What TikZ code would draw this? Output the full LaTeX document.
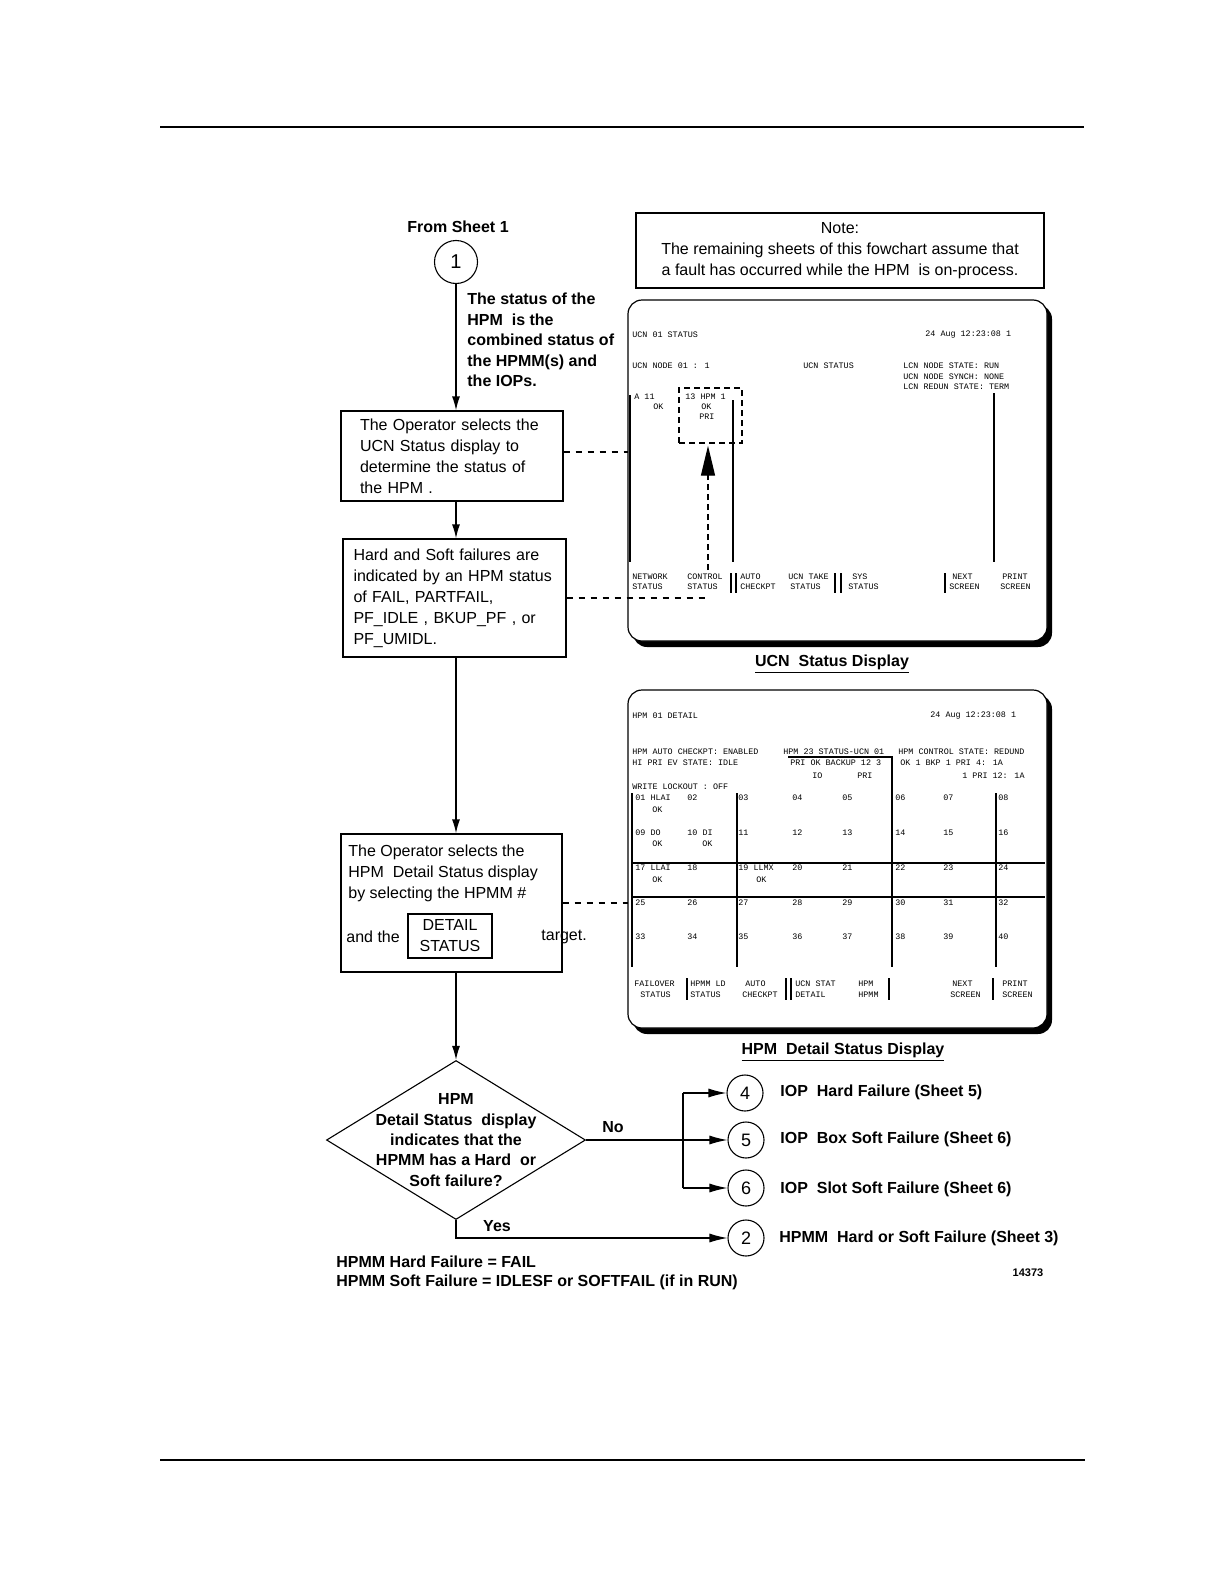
\documentclass[tikz,border=0pt]{standalone}
\usepackage{fontspec}
\setmainfont{Liberation Sans}
\newfontfamily\scrfont{Liberation Mono}
\usetikzlibrary{arrows.meta,shapes.geometric}
\begin{document}
\begin{tikzpicture}[x=0.5pt,y=-0.5pt,
  box/.style={draw, line width=0.65pt, inner sep=0pt},
  btxt/.style={font=\fontsize{8}{10.5}\selectfont},
  boldt/.style={font=\bfseries\fontsize{8}{10.2}\selectfont, inner sep=0pt},
  arr/.style={-{Latex[length=7pt,width=4pt]}, line width=0.65pt},
  harr/.style={-{Latex[length=9pt,width=4.5pt]}, line width=0.6pt},
  link/.style={dash pattern=on 3pt off 3pt, line width=0.55pt},
  conn/.style={circle, draw, line width=0.55pt, inner sep=0pt, font=\fontsize{9}{9}\selectfont},
  scr/.style={font=\scrfont\fontsize{4.2}{5}\selectfont, inner sep=0pt, anchor=west},
  sline/.style={line width=0.9pt},
  frame/.style={fill=white, line width=0.6pt, rounded corners=7pt},
  shade/.style={fill=black, rounded corners=7pt}
]
\useasboundingbox (0,0) rectangle (1224,1584);

% page rules
\draw[line width=0.7pt] (160,127) -- (1084,127);
\draw[line width=0.7pt] (160,1460) -- (1085,1460);

% note
\node[box, minimum width=204pt, minimum height=37.5pt, align=center, btxt] (note) at (840,250.5)
  {Note:\\The remaining sheets of this fowchart assume that\\a fault has occurred while the HPM\ \ is on-process.};

% ---------- screen 1 : UCN Status Display ----------
\fill[shade] (633,305) rectangle (1052,647);
\draw[frame] (628,300) rectangle (1047,641);
\coordinate (s1w) at (628,452);
\foreach \px/\py/\t [count=\i] in {
  632/335/{UCN 01 STATUS}, 925/335/{24 Aug   12:23:08   1},
  632/366/{UCN  NODE  01 : 1}, 803/366/{UCN STATUS},
  903/366/{LCN NODE  STATE: RUN}, 903/377/{UCN NODE SYNCH: NONE}, 903/387/{LCN REDUN STATE: TERM},
  634/397/{A   11}, 653/407/{OK},
  685/397/{13 HPM  1}, 701/407/{OK}, 699/417/{PRI},
  632/577/{NETWORK}, 632/587/{ STATUS}, 687/577/{CONTROL}, 687/587/{STATUS},
  740/577/{AUTO}, 740/587/{CHECKPT}, 788/577/{UCN TAKE}, 790/587/{STATUS},
  852/577/{SYS}, 848/587/{STATUS},
  952/577/{NEXT}, 949/587/{SCREEN}, 1002/577/{PRINT}, 1000/587/{SCREEN}}
  \node[scr] (sa\i) at (\px,\py) {\t};
\draw[sline] (630,395) -- (630,562);
\draw[sline] (733,400) -- (733,562);
\draw[sline] (994,393) -- (994,562);
\draw[sline] (731,573) -- (731,593) (736,573) -- (736,593);
\draw[sline] (835,573) -- (835,593) (841,573) -- (841,593);
\draw[sline] (945,573) -- (945,593);
\node[draw, densely dashed, line width=0.7pt, minimum width=31.5pt, minimum height=27.5pt, inner sep=0pt] (sel) at (710.5,415.5) {};
\coordinate (selfoot) at (708,570);
\draw[densely dashed, line width=0.7pt, -{Triangle[length=15pt,width=7pt]}] (selfoot) -- ([yshift=-1pt]selfoot |- sel.south);

\node[boldt] (cap1) at (832,664) {\underline{UCN\ \ Status Display}};

% ---------- screen 2 : HPM Detail Status Display ----------
\fill[shade] (633,695) rectangle (1052,1034);
\draw[frame] (628,690) rectangle (1047,1028);
\coordinate (s2w) at (628,903);
\foreach \px/\py/\t [count=\i] in {
  632/716/{HPM 01 DETAIL}, 930/716/{24 Aug   12:23:08  1},
  632/752/{HPM AUTO CHECKPT: ENABLED}, 783/752/{HPM 23 STATUS-UCN 01}, 898/752/{HPM CONTROL STATE: REDUND},
  632/763/{HI  PRI EV  STATE: IDLE}, 790/763/{PRI  OK  BACKUP 12 3}, 900/763/{OK  1  BKP 1 PRI 4: 1A},
  812/776/{IO}, 857/776/{PRI}, 962/776/{1 PRI 12: 1A},
  632/787/{WRITE LOCKOUT : OFF},
  635/798/{01 HLAI}, 687/798/{02}, 738/798/{03}, 792/798/{04}, 842/798/{05}, 895/798/{06}, 943/798/{07}, 998/798/{08},
  652/810/{OK},
  635/833/{09  DO}, 687/833/{10 DI}, 738/833/{11}, 792/833/{12}, 842/833/{13}, 895/833/{14}, 943/833/{15}, 998/833/{16},
  652/844/{OK}, 702/844/{OK},
  635/868/{17 LLAI}, 687/868/{18}, 738/868/{19 LLMX}, 792/868/{20}, 842/868/{21}, 895/868/{22}, 943/868/{23}, 998/868/{24},
  652/880/{OK}, 756/880/{OK},
  635/903/{25}, 687/903/{26}, 738/903/{27}, 792/903/{28}, 842/903/{29}, 895/903/{30}, 943/903/{31}, 998/903/{32},
  635/937/{33}, 687/937/{34}, 738/937/{35}, 792/937/{36}, 842/937/{37}, 895/937/{38}, 943/937/{39}, 998/937/{40},
  634/984/{FAILOVER}, 640/995/{STATUS}, 690/984/{HPMM LD}, 690/995/{STATUS}, 745/984/{AUTO}, 742/995/{CHECKPT},
  795/984/{UCN STAT}, 795/995/{DETAIL}, 858/984/{HPM}, 858/995/{HPMM}, 952/984/{NEXT}, 950/995/{SCREEN}, 1002/984/{PRINT}, 1002/995/{SCREEN}}
  \node[scr] (sb\i) at (\px,\py) {\t};
\draw[sline] (788,757) -- (892,757) -- (892,967);
\draw[sline] (632,793) -- (632,967);
\draw[sline] (737,793) -- (737,967);
\draw[sline] (996,793) -- (996,967);
\draw[sline] (632,863) -- (1045,863);
\draw[sline] (632,897) -- (1045,897);
\draw[sline] (687,978) -- (687,1000) (786,978) -- (786,1000) (791,978) -- (791,1000)
             (889,978) -- (889,1000) (993,978) -- (993,1000);

\node[boldt] (cap2) at (843,1052) {\underline{HPM\ \ Detail Status Display}};

% ---------- flow ----------
\node[boldt] (from) at (458,227) {From Sheet 1};
\node[conn, minimum size=21.5pt, font=\fontsize{10}{10}\selectfont] (c1) at (456,262) {1};
\node[boldt, anchor=west, align=left] (note2) at (467,340)
  {The status of the\\HPM\ \ is the\\combined status of\\the HPMM(s) and\\the IOPs.};

\node[box, btxt, minimum width=111pt, minimum height=45pt, text width=92pt, align=left] (b1) at (452,456)
  {The Operator selects the\\UCN Status display to\\determine the status of\\the HPM .};
\node[box, btxt, minimum width=111.5pt, minimum height=59pt, text width=101pt, align=left] (b2) at (454.5,598)
  {Hard and Soft failures are\\indicated by an HPM status\\of FAIL, PARTFAIL,\\PF\_IDLE , BKUP\_PF , or\\PF\_UMIDL.};
\node[box, minimum width=110.5pt, minimum height=69pt] (b3) at (451.5,903) {};
\node[btxt, anchor=west, align=left, inner sep=0pt] (b3t) at (348,873)
  {The Operator selects the\\HPM\ \ Detail Status display\\by selecting the HPMM \#};
\node[btxt, anchor=west, inner sep=0pt] (b3a) at (346,937) {and the};
\node[box, btxt, minimum width=42pt, minimum height=22pt, align=center] (ds) at (450,936) {DETAIL\\STATUS};
\node[btxt, anchor=west, inner sep=0pt] (b3b) at (541,937) {target.};

\node[draw, diamond, minimum width=129.5pt, minimum height=79.5pt, inner sep=0pt, line width=0.55pt] (d) at (456,1140) {};
\node[boldt, align=center] (dt) at (456,1140)
  {HPM\\Detail Status\ \ display\\indicates that the\\HPMM has a Hard\ \ or\\Soft failure?};

\node[conn, minimum size=18pt] (c4) at (745,1093) {4};
\node[conn, minimum size=18pt] (c5) at (746,1140) {5};
\node[conn, minimum size=18pt] (c6) at (746,1188) {6};
\node[conn, minimum size=18pt] (c2) at (746,1238) {2};
\coordinate (j) at (683,1140);

\node[boldt, anchor=west] (l4) at (780,1092) {IOP\ \ Hard Failure (Sheet 5)};
\node[boldt, anchor=west] (l5) at (780,1139) {IOP\ \ Box Soft Failure (Sheet 6)};
\node[boldt, anchor=west] (l6) at (780,1189) {IOP\ \ Slot Soft Failure (Sheet 6)};
\node[boldt, anchor=west] (l2) at (779,1238) {HPMM\ \ Hard or Soft Failure (Sheet 3)};

\node[boldt] (no) at (613,1127) {No};
\node[boldt] (yes) at (497,1226) {Yes};

\node[boldt, anchor=west] (f1) at (336,1262) {HPMM Hard Failure = FAIL};
\node[boldt, anchor=west] (f2) at (336,1282) {HPMM Soft Failure = IDLESF or SOFTFAIL (if in RUN)};
\node[font=\bfseries\fontsize{5.5}{6}\selectfont, inner sep=0pt] (num) at (1028,1273) {14373};

% connectors
\draw[arr] (c1.south) -- (c1.south |- b1.north);
\draw[arr] (c1.south |- b1.south) -- (c1.south |- b2.north);
\draw[arr] (c1.south |- b2.south) -- (c1.south |- b3.north);
\draw[arr] (c1.south |- b3.south) -- (d.north);
\draw[line width=0.6pt] (d.east) -- (j);
\draw[line width=0.6pt] (j |- c4) -- (j |- c6);
\draw[harr] (j |- c4) -- (c4.west);
\draw[harr] (j) -- (c5.west);
\draw[harr] (j |- c6) -- (c6.west);
\draw[harr] (d.south) |- (c2.west);

\draw[link] (b1.east |- s1w) -- (s1w);
\coordinate (b2end) at (706,600);
\draw[link] (b2.east) -- (b2.east -| b2end);
\draw[link] (b3.east) -- (s2w);
\end{tikzpicture}
\end{document}
